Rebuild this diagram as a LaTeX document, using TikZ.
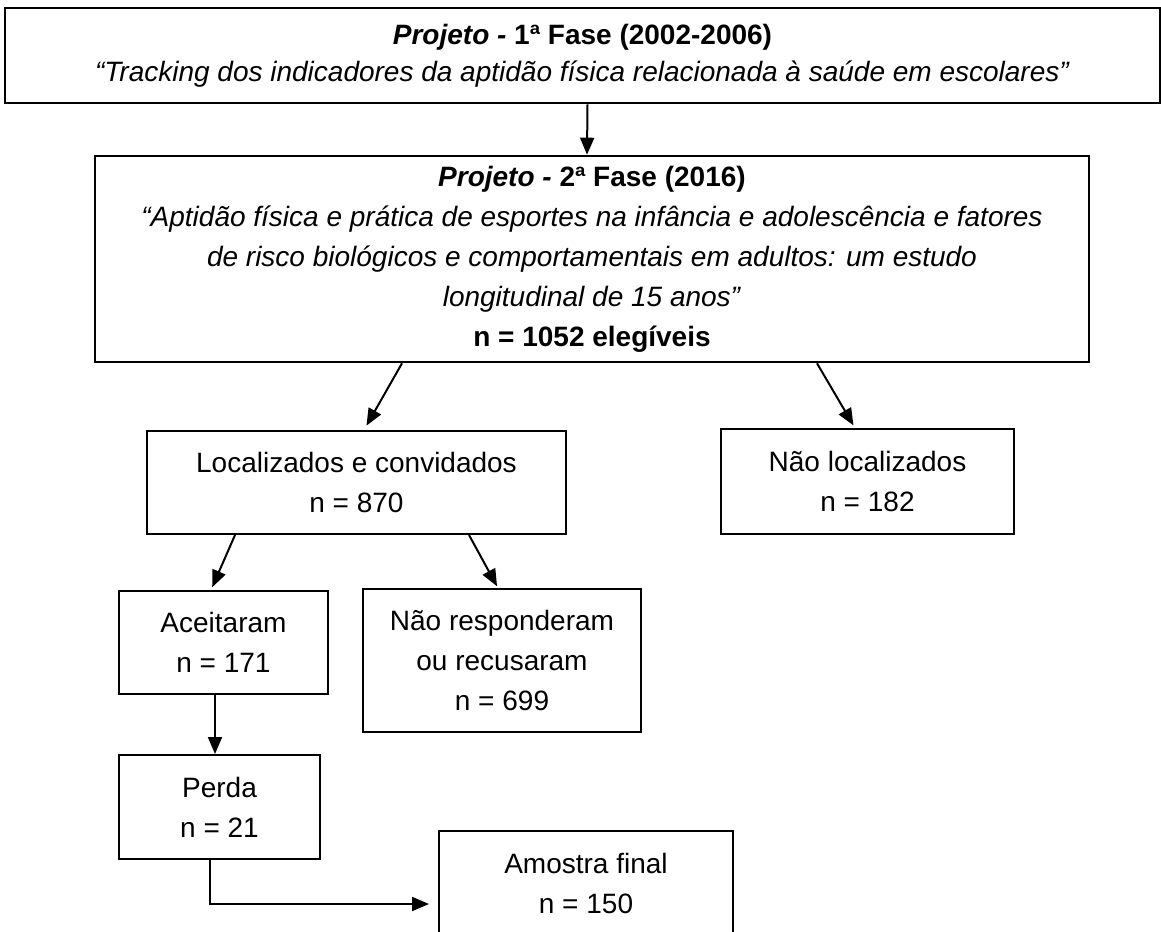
\documentclass[tikz,border=0pt]{standalone}
\usepackage{fontspec}
\setmainfont{Liberation Sans}
\usetikzlibrary{arrows.meta}

\begin{document}
\begin{tikzpicture}[x=1pt,y=-1pt,
        box/.style={draw, line width=2pt, align=center, inner sep=0pt, font=\fontsize{28}{40}\selectfont},
        bigbox/.style={box, line width=2.6pt},
        arr/.style={line width=2pt, -{Triangle[length=17pt,width=14pt]}}]
        \useasboundingbox (0,0) rectangle (1161,931);
        \node[bigbox, minimum width=1155pt, minimum height=95pt] (fase1) at (582.5,55.5)
            {\textbf{\textit{Projeto -} 1ª Fase (2002-2006)}\\[-3pt]
             \textit{“Tracking dos indicadores da aptidão física relacionada à saúde em escolares”}};
        \node[bigbox, minimum width=994pt, minimum height=206pt] (fase2) at (592,259)
            {\textbf{\textit{Projeto -} 2ª Fase (2016)}\\
             \textit{“Aptidão física e prática de esportes na infância e adolescência e fatores}\\
             \textit{de risco biológicos e comportamentais em adultos: um estudo}\\
             \textit{longitudinal de 15 anos”}\\
             \textbf{n = 1052 elegíveis}};
        \node[box, minimum width=419pt, minimum height=103pt] (loc) at (356.5,482.5) {Localizados e convidados\\n = 870};
        \node[box, minimum width=293pt, minimum height=105pt] (naoloc) at (867.5,481.5) {Não localizados\\n = 182};
        \node[box, minimum width=209pt, minimum height=103pt] (aceit) at (223.5,642.5) {Aceitaram\\n = 171};
        \node[box, minimum width=278pt, minimum height=143pt] (naoresp) at (502,660.5) {Não responderam\\ou recusaram\\n = 699};
        \node[box, minimum width=201pt, minimum height=104pt] (perda) at (219.5,807) {Perda\\n = 21};
        \node[box, minimum width=294pt, minimum height=104pt] (amostra) at (586,883) {Amostra final\\n = 150};
        \draw[arr] ([xshift=5pt]fase1.south) -- ([xshift=-5pt]fase2.north);
        \draw[arr, shorten >=5pt] ([xshift=-190pt]fase2.south) -- ([xshift=7.5pt]loc.north);
        \draw[arr, shorten >=3pt] ([xshift=225pt]fase2.south) -- ([xshift=-12.5pt]naoloc.north);
        \draw[arr, shorten >=3pt] ([xshift=-121.5pt]loc.south) -- ([xshift=-12.5pt]aceit.north);
        \draw[arr, shorten >=2pt] ([xshift=112.5pt]loc.south) -- ([xshift=-4pt]naoresp.north);
        \draw[arr] ([xshift=-8.5pt]aceit.south) -- ([xshift=-8.5pt]aceit.south |- perda.north);
        \draw[arr] ([xshift=-9.5pt]perda.south) |- ([shift={(-9pt,-21pt)}]amostra.west);
\end{tikzpicture}
\end{document}
